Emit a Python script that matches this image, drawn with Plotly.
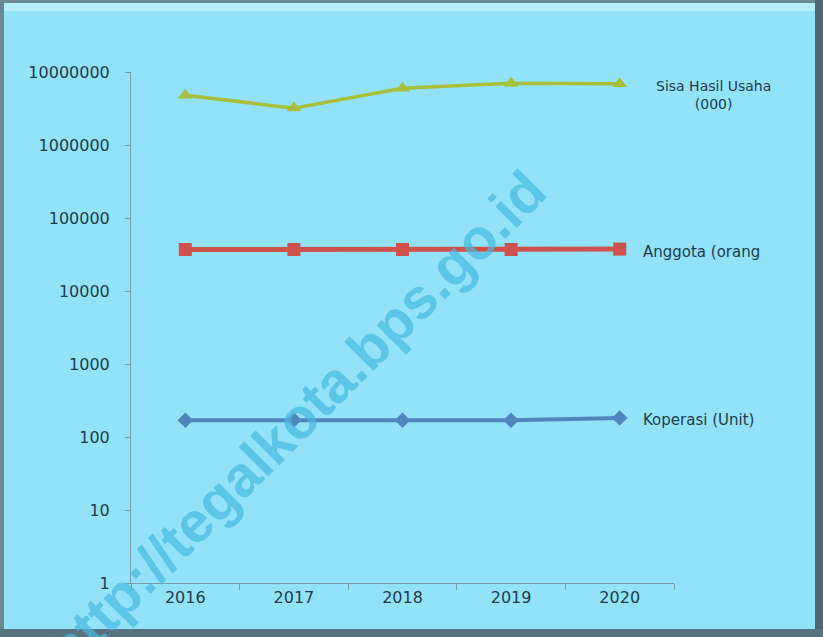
import plotly.graph_objects as go

years = ["2016", "2017", "2018", "2019", "2020"]
sisa_hasil_usaha = [4800000, 3200000, 6000000, 7000000, 6900000]
anggota = [37000, 37000, 37000, 37000, 37500]
koperasi = [170, 171, 170, 170, 182]
y_tick_vals = [1, 10, 100, 1000, 10000, 100000, 1000000, 10000000]
y_tick_text = ["1", "10", "100", "1000", "10000", "100000", "1000000", "10000000"]

W, H = 823, 637
L, R, T, B = 131, 149, 72, 54
pw, ph = W - L - R, H - T - B

def px(x):
    return (x - L) / pw

def py(y):
    return (H - B - y) / ph

text_col = "#1d3c4c"
font_main = "DejaVu Sans"

fig = go.Figure()
fig.add_trace(go.Scatter(x=years, y=koperasi, mode="lines+markers", name="Koperasi (Unit)",
                         line=dict(color="#4f87bd", width=4),
                         marker=dict(symbol="diamond", size=12, color="#4f87bd")))
fig.add_trace(go.Scatter(x=years, y=anggota, mode="lines+markers", name="Anggota (orang",
                         line=dict(color="#cf514b", width=5),
                         marker=dict(symbol="square", size=13, color="#cf514b")))
fig.add_trace(go.Scatter(x=years, y=sisa_hasil_usaha, mode="lines+markers", name="Sisa Hasil Usaha (000)",
                         line=dict(color="#a9bf3c", width=3.5),
                         marker=dict(symbol="triangle-up", size=13, color="#a9bf3c")))

labels = [
    dict(x=px(713), y=py(95), text="Sisa Hasil Usaha<br>(000)", xanchor="center", yanchor="middle",
         align="center", size=14),
    dict(x=px(641), y=py(252), text="Anggota (orang", xanchor="left", yanchor="middle", align="left", size=15),
    dict(x=px(641), y=py(420), text="Koperasi (Unit)", xanchor="left", yanchor="middle", align="left", size=15),
]
for a in labels:
    sz = a.pop("size")
    fig.add_annotation(xref="paper", yref="paper", showarrow=False,
                       font=dict(family=font_main, size=sz, color=text_col), **a)

fig.add_annotation(xref="paper", yref="paper", x=px(296), y=py(420), xanchor="center", yanchor="middle",
                   text="<b>http://tegalkota.bps.go.id</b>", showarrow=False, textangle=-45,
                   font=dict(family="Liberation Sans", size=57, color="rgba(70,185,222,0.7)"))

# outer frame pieces
def rect(x0, y0, x1, y1, col):
    fig.add_shape(type="rect", xref="paper", yref="paper",
                  x0=px(x0), x1=px(x1), y0=py(y1), y1=py(y0),
                  line=dict(width=0), fillcolor=col, layer="below")

rect(0, 3, W, 11, "#b6eefb")
rect(0, 0, W, 3, "#6e8c94")
rect(0, 0, 4, H, "#6a8794")
rect(W - 8, 0, W, H, "#4f6672")
rect(0, H - 8, W, H, "#5a7380")

fig.update_layout(
    width=W, height=H,
    margin=dict(l=L, r=R, t=T, b=B, pad=0),
    paper_bgcolor="#92e3f9",
    plot_bgcolor="rgba(0,0,0,0)",
    showlegend=False,
    font=dict(family=font_main, color=text_col),
)
fig.update_xaxes(type="category", range=[-0.5, 4.5], showgrid=False, zeroline=False,
                 showline=True, linecolor="#7f9aa6", linewidth=1,
                 ticks="outside", tickson="boundaries", ticklen=6, tickcolor="#7f9aa6",
                 tickfont=dict(size=16, family=font_main, color=text_col))
fig.update_yaxes(type="log", range=[0, 7], showgrid=False, zeroline=False,
                 showline=True, linecolor="#7f9aa6", linewidth=1,
                 ticks="outside", ticklen=5, tickcolor="#7f9aa6",
                 tickvals=y_tick_vals, ticktext=y_tick_text, ticklabelstandoff=12,
                 tickfont=dict(size=16, family=font_main, color=text_col))

fig.write_html("out.html", config={"displayModeBar": False},
               post_script="document.body.style.margin='0';")
